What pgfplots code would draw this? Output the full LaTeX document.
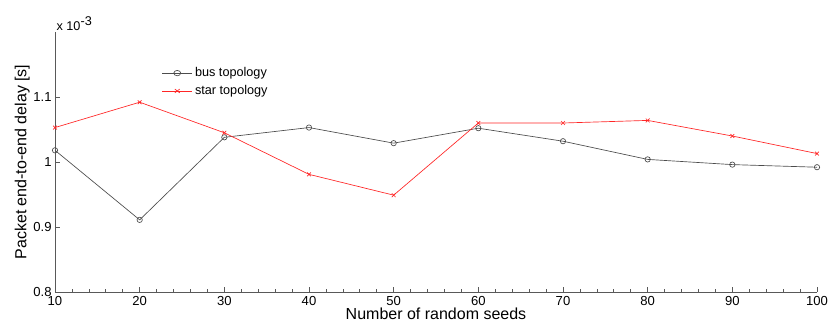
\documentclass[border=0pt]{standalone}
\usepackage{pgfplots}
\pgfplotsset{compat=1.18}
\usepackage{fontspec}
\setmainfont{Liberation Sans}
\begin{document}
\begin{tikzpicture}
\path[use as bounding box] (0pt,0pt) rectangle (622.5pt,247.5pt);
\begin{axis}[
  at={(41.25pt,28.5pt)}, anchor=south west,
  scale only axis, width=571.5pt, height=195pt,
  xmin=10, xmax=100, ymin=0.8, ymax=1.2,
  xtick={10,20,...,100}, ytick={0.8,0.9,1,1.1},
  yticklabels={0.8,0.9,1,1.1},
  minor x tick num=4,
  axis x line*=bottom, axis y line*=left,
  axis line style={black!65, line width=0.6pt},
  tick style={black!65, line width=0.5pt},
  tick align=inside,
  major tick length=4pt, minor tick length=2pt,
  /pgf/number format/assume math mode=true,
  tick label style={font=\fontsize{9.8}{11}\selectfont},
  xticklabel style={yshift=0.5pt},
  yticklabel style={xshift=1pt},
  xlabel={Number of random seeds},
  ylabel={Packet end-to-end delay [s]},
  label style={font=\fontsize{12}{13}\selectfont},
  xlabel style={yshift=5pt},
  ylabel style={yshift=-4pt},
  legend style={draw=none, fill=none, at={(0.135,0.885)}, anchor=north west,
    font=\fontsize{9.5}{11}\selectfont, row sep=1pt},
  legend image post style={xscale=1.3},
  legend cell align=left,
  clip=false,
]
\addplot[color=black!70, line width=0.5pt, mark=o, mark size=2pt, mark options={solid}]
  coordinates {(10,1.018) (20,0.911) (30,1.038) (40,1.053) (50,1.029) (60,1.052) (70,1.032) (80,1.004) (90,0.996) (100,0.992)};
\addlegendentry{bus topology}
\addplot[color=red!85, line width=0.5pt, mark=x, mark size=2pt, mark options={solid}]
  coordinates {(10,1.053) (20,1.092) (30,1.045) (40,0.981) (50,0.949) (60,1.060) (70,1.060) (80,1.064) (90,1.040) (100,1.013)};
\addlegendentry{star topology}
\node[anchor=south west, font=\fontsize{9.5}{11}\selectfont, inner sep=1pt] at (rel axis cs:0,1) {x 10$^{\textrm{-3}}$};
\end{axis}
\end{tikzpicture}
\end{document}
